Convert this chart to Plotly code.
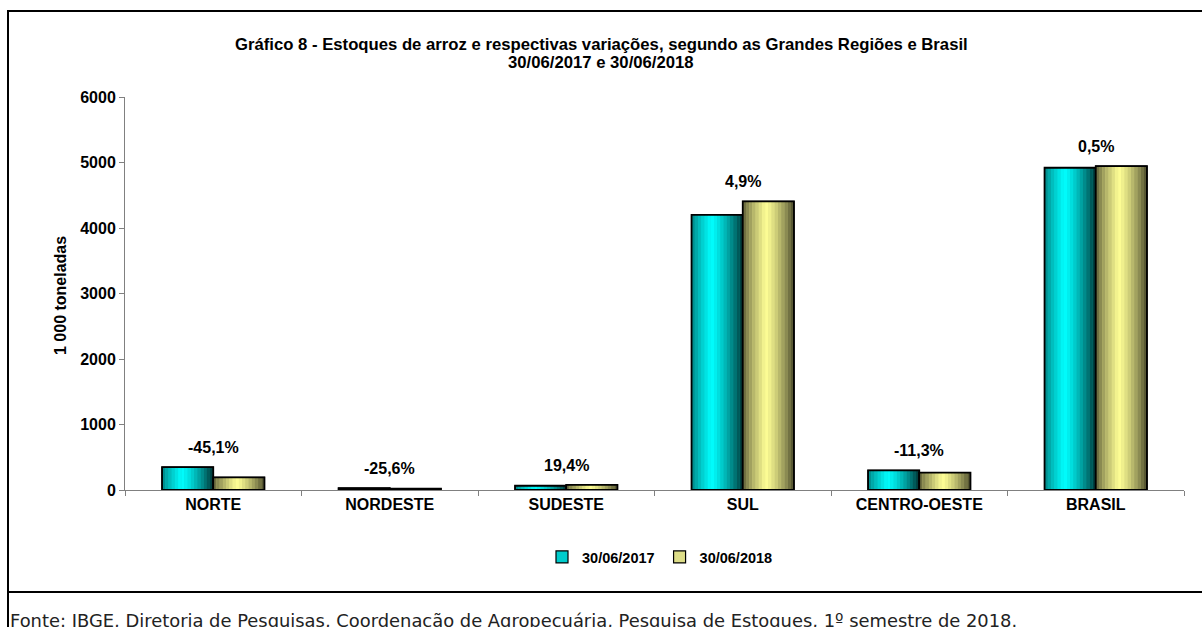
import plotly.graph_objects as go

categories = ["NORTE", "NORDESTE", "SUDESTE", "SUL", "CENTRO-OESTE", "BRASIL"]
stock_2017 = [350, 30, 65, 4200, 300, 4920]
stock_2018 = [192, 22, 78, 4406, 266, 4945]
variation_labels = ["-45,1%", "-25,6%", "19,4%", "4,9%", "-11,3%", "0,5%"]
series_names = ["30/06/2017", "30/06/2018"]
y_ticks = [0, 1000, 2000, 3000, 4000, 5000, 6000]

W, H = 1202, 627
L, R, T, B = 125, 18, 97, 137
pw, ph = W - L - R, H - T - B

def px_x(p):
    return (p - L) / pw

def px_y(p):
    return (H - B - p) / ph

bar_w = 0.29
N = 16

def profile(s, left, peak_pos, right):
    if s <= peak_pos:
        return left + (1 - left) * (s / peak_pos) ** 0.8
    return 1 - (1 - right) * ((s - peak_pos) / (1 - peak_pos)) ** 1.3

styles = [
    dict(bright=(0, 255, 255), solid="#00CCCC", left=0.5, peak=0.38, right=0.2),
    dict(bright=(255, 255, 150), solid="#DDDD88", left=0.36, peak=0.45, right=0.3),
]

FONT = "Liberation Sans, Arial"

fig = go.Figure()
for si, (vals, name) in enumerate(zip([stock_2017, stock_2018], series_names)):
    st = styles[si]
    base_off = -bar_w if si == 0 else 0.0
    fig.add_trace(go.Bar(
        x=categories, y=vals, name=name, width=bar_w, offset=base_off,
        marker=dict(color=st["solid"], line=dict(color="black", width=1.2)),
        showlegend=True, hoverinfo="skip",
    ))
    for k in range(N):
        s = (k + 0.5) / N
        f = profile(s, st["left"], st["peak"], st["right"])
        col = "rgb(%d,%d,%d)" % tuple(int(c * f) for c in st["bright"])
        fig.add_trace(go.Bar(
            x=categories, y=vals, width=bar_w / N + 0.001,
            offset=base_off + k * bar_w / N,
            marker=dict(color=col, line=dict(width=0)),
            showlegend=False, hoverinfo="skip",
        ))
    fig.add_trace(go.Bar(
        x=categories, y=vals, width=bar_w, offset=base_off,
        marker=dict(color="rgba(0,0,0,0)", line=dict(color="black", width=1.8)),
        showlegend=False, hoverinfo="skip",
    ))

annotations = []
for c, a, b, lab in zip(categories, stock_2017, stock_2018, variation_labels):
    annotations.append(dict(
        x=c, y=max(a, b), xref="x", yref="y", text="<b>%s</b>" % lab,
        showarrow=False, yanchor="bottom", yshift=9,
        font=dict(family=FONT, size=16, color="black"),
    ))

annotations.append(dict(
    x=px_x(601), y=px_y(45), xref="paper", yref="paper",
    text="<b>Gráfico 8 - Estoques de arroz e respectivas variações, segundo as Grandes Regiões e Brasil</b>",
    showarrow=False, xanchor="center", yanchor="middle",
    font=dict(family=FONT, size=16.7, color="black"),
))
annotations.append(dict(
    x=px_x(601), y=px_y(62), xref="paper", yref="paper",
    text="<b>30/06/2017 e 30/06/2018</b>",
    showarrow=False, xanchor="center", yanchor="middle",
    font=dict(family=FONT, size=16.7, color="black"),
))
annotations.append(dict(
    x=px_x(60), y=px_y(296), xref="paper", yref="paper",
    text="<b>1 000 toneladas</b>", textangle=-90, showarrow=False,
    xanchor="center", yanchor="middle",
    font=dict(family=FONT, size=16, color="black"),
))
annotations.append(dict(
    x=px_x(8), y=px_y(608), xref="paper", yref="paper",
    text="Fonte: IBGE, Diretoria de Pesquisas, Coordenação de Agropecuária, Pesquisa de Estoques, 1º semestre de 2018.",
    showarrow=False, xanchor="left", yanchor="top",
    font=dict(family="DejaVu Sans, Verdana", size=17.9, color="#222222"),
))

shapes = [
    dict(type="rect", xref="paper", yref="paper",
         x0=px_x(8), x1=px_x(1215), y0=px_y(592), y1=px_y(11),
         line=dict(color="black", width=2), fillcolor="rgba(0,0,0,0)", layer="below"),
    dict(type="line", xref="paper", yref="paper",
         x0=px_x(8), x1=px_x(8), y0=px_y(592), y1=px_y(640),
         line=dict(color="black", width=2)),
]

fig.update_layout(
    width=W, height=H,
    margin=dict(l=L, r=R, t=T, b=B),
    barmode="overlay",
    paper_bgcolor="white", plot_bgcolor="white",
    annotations=annotations, shapes=shapes,
    legend=dict(orientation="h", x=px_x(660), xanchor="center", y=px_y(557), yanchor="middle",
                font=dict(family=FONT, size=14.5, color="black", weight="bold"),
                itemwidth=30, tracegroupgap=0, bgcolor="rgba(0,0,0,0)"),
    font=dict(family=FONT, color="black"),
)
fig.update_xaxes(
    type="category", showline=True, linecolor="#808080", linewidth=1,
    ticks="outside", tickson="boundaries", ticklen=5, tickcolor="#808080",
    tickfont=dict(family=FONT, size=16, color="black", weight="bold"),
    showgrid=False, zeroline=False,
)
fig.update_yaxes(
    range=[0, 6000], tickvals=y_ticks, ticktext=[str(v) for v in y_ticks],
    showline=True, linecolor="#808080", linewidth=1,
    ticks="outside", ticklen=5, tickcolor="#808080",
    tickfont=dict(family=FONT, size=16, color="black", weight="bold"),
    showgrid=False, zeroline=False,
)

fig.write_html(
    "out.html",
    config={"displayModeBar": False},
    post_script="document.body.style.margin='0';document.body.style.overflow='hidden';",
)
